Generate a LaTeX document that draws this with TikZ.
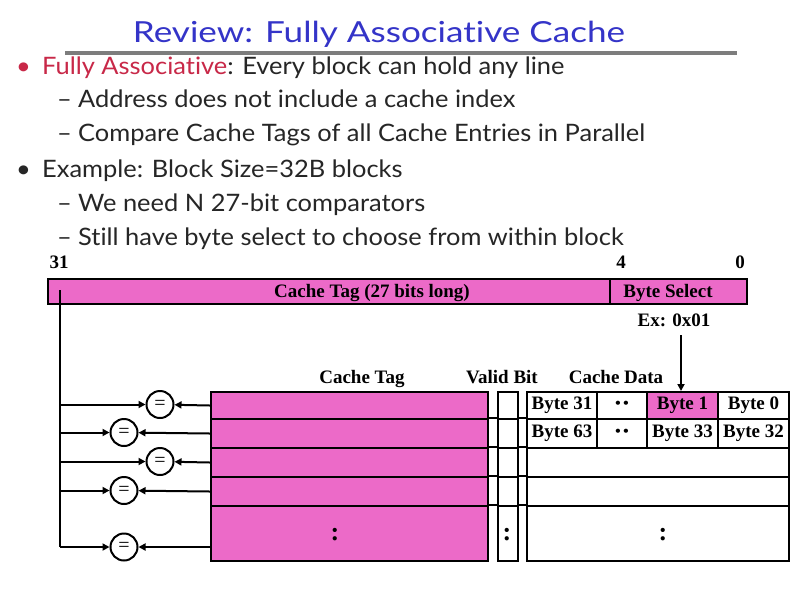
\documentclass[tikz,border=0pt]{standalone}
\usepackage{fontspec}
\setmainfont{Lato}[FakeStretch=1.06, Ligatures=NoCommon]
\newfontfamily\titlefont{Lato}[FakeStretch=1.21, Ligatures=NoCommon]
\newfontfamily\tnr{Liberation Serif}
\usetikzlibrary{arrows.meta}
\definecolor{pinkfill}{RGB}{236,106,200}
\definecolor{titleblue}{RGB}{52,52,200}
\definecolor{crimson}{RGB}{200,40,72}
\definecolor{bodytext}{RGB}{38,38,38}
\definecolor{rulegray}{RGB}{125,125,125}
\begin{document}
\begin{tikzpicture}[x=1pt,y=-1pt,
  title/.style={font=\titlefont\fontsize{29}{32}\selectfont, text=titleblue, inner sep=0pt, anchor=base},
  bodyline/.style={font=\fontsize{24}{28}\selectfont, text=bodytext, inner sep=0pt, anchor=base west},
  lbl/.style={font=\tnr\bfseries\fontsize{19}{20}\selectfont, inner sep=0pt, anchor=base},
  cell/.style={draw, line width=2pt, inner sep=0pt, font=\tnr\bfseries\fontsize{19}{20}\selectfont},
  vdots/.style={font=\tnr\bfseries\fontsize{26}{26}\selectfont, inner sep=0pt},
  bdots/.style={font=\fontsize{11}{11}\selectfont, inner sep=0pt},
  cmp/.style={draw, circle, line width=2pt, minimum size=27pt, inner sep=0pt, font=\tnr\fontsize{20}{20}\selectfont},
  wire/.style={line width=2pt},
  arr/.style={line width=2pt, -{Triangle[length=7pt,width=7pt]}}
]
\useasboundingbox (0,0) rectangle (802,590);
\fill[white] (0,0) rectangle (802,590);

% title and rule
\draw[rulegray, line width=4pt] (65,53) -- (737,53);
\node[title] (ttl) at (379,42) {Review: Fully Associative Cache};

% bullets
\node[bodyline] (b1) at (16,74) {\makebox[26pt][l]{\textcolor{crimson}{•}}\textcolor{crimson}{Fully Associative}: Every block can hold any line};
\node[bodyline] (b2) at (57,107) {\makebox[21pt][l]{–}Address does not include a cache index};
\node[bodyline] (b3) at (57,141) {\makebox[21pt][l]{–}Compare Cache Tags of all Cache Entries in Parallel};
\node[bodyline] (b4) at (16,177) {\makebox[26pt][l]{•}Example: Block Size=32B blocks};
\node[bodyline] (b5) at (57,211) {\makebox[21pt][l]{–}We need N 27-bit comparators};
\node[bodyline] (b6) at (57,245) {\makebox[21pt][l]{–}Still have byte select to choose from within block};

% bit numbers
\node[lbl] (n31) at (59,268) {31};
\node[lbl] (n4) at (621,268) {4};
\node[lbl] (n0) at (740,268) {0};

% address bar
\node[cell, fill=pinkfill, minimum width=562pt, minimum height=25pt, anchor=north west] (tagfield) at (47,277.5) {};
\node[cell, fill=pinkfill, minimum width=137pt, minimum height=25pt, anchor=north west] (bsel) at (609,277.5) {};
\node[lbl] (tagtxt) at (372,297) {Cache Tag (27 bits long)};
\node[lbl] (bseltxt) at (668,297) {Byte Select};

\node[lbl] (ex) at (674,326) {Ex: 0x01};

% column labels
\node[lbl] (lct) at (362,383) {Cache Tag};
\node[lbl] (lvb) at (502,383) {Valid Bit};
\node[lbl] (lcd) at (616,383) {Cache Data};

% tag rows
\node[cell, fill=pinkfill, minimum width=277pt, minimum height=27pt, anchor=north west] (t1) at (210,391) {};
\node[cell, fill=pinkfill, minimum width=277pt, minimum height=29pt, anchor=north west] (t2) at (210,418) {};
\node[cell, fill=pinkfill, minimum width=277pt, minimum height=29pt, anchor=north west] (t3) at (210,447) {};
\node[cell, fill=pinkfill, minimum width=277pt, minimum height=29pt, anchor=north west] (t4) at (210,476) {};
\node[cell, fill=pinkfill, minimum width=277pt, minimum height=55pt, anchor=north west] (t5) at (210,505) {};
\node[vdots] (tdots) at (335,535) {:};

% valid column
\node[cell, minimum width=20pt, minimum height=27pt, anchor=north west] (v1) at (497,391) {};
\node[cell, minimum width=20pt, minimum height=29pt, anchor=north west] (v2) at (497,418) {};
\node[cell, minimum width=20pt, minimum height=29pt, anchor=north west] (v3) at (497,447) {};
\node[cell, minimum width=20pt, minimum height=29pt, anchor=north west] (v4) at (497,476) {};
\node[cell, minimum width=20pt, minimum height=55pt, anchor=north west] (v5) at (497,505) {};
\node[vdots] (vdt) at (507,535) {:};

% data rows
\node[cell, minimum width=70pt, minimum height=27pt, anchor=north west] (d11) at (526,391) {Byte 31};
\node[cell, minimum width=50pt, minimum height=27pt, anchor=north west] (d12) at (596,391) {};
\node[cell, fill=pinkfill, minimum width=71pt, minimum height=27pt, anchor=north west] (d13) at (646,391) {Byte 1};
\node[cell, minimum width=71pt, minimum height=27pt, anchor=north west] (d14) at (717,391) {Byte 0};
\node[cell, minimum width=70pt, minimum height=29pt, anchor=north west] (d21) at (526,418) {Byte 63};
\node[cell, minimum width=50pt, minimum height=29pt, anchor=north west] (d22) at (596,418) {};
\node[cell, minimum width=71pt, minimum height=29pt, anchor=north west] (d23) at (646,418) {Byte 33};
\node[cell, minimum width=71pt, minimum height=29pt, anchor=north west] (d24) at (717,418) {Byte 32};
\node[cell, minimum width=262pt, minimum height=29pt, anchor=north west] (d3) at (526,447) {};
\node[cell, minimum width=262pt, minimum height=29pt, anchor=north west] (d4) at (526,476) {};
\node[cell, minimum width=262pt, minimum height=55pt, anchor=north west] (d5) at (526,505) {};
\node[vdots] (ddots) at (663,535) {:};
\node[bdots] (d12t) at ([yshift=2pt]d12.center) {•\kern1pt•};
\node[bdots] (d22t) at ([yshift=2pt]d22.center) {•\kern1pt•};

% row separators across the gaps
\foreach \yy in {418,447,476,505} {
  \draw[wire] (487,\yy) -- (497,\yy);
  \draw[wire] (517,\yy) -- (526,\yy);
}

% byte select arrow
\coordinate (exb) at (681,335);
\draw[arr] (exb) -- (d13.north -| exb);

% comparators
\node[cmp] (c1) at (160,404.5) {=};
\node[cmp] (c2) at (124,432.5) {=};
\node[cmp] (c3) at (160,461.5) {=};
\node[cmp] (c4) at (124,490.5) {=};
\node[cmp] (c5) at (124,547) {=};

% tag bus
\coordinate (bustop) at (60,290);
\coordinate (busbot) at (60,547);
\draw[wire] (bustop) -- (busbot);
\draw[arr] (busbot) -- (c5);
\foreach \i in {1,2,3,4} {
  \draw[arr] (bustop |- c\i) -- (c\i);
}
\foreach \i in {1,2,3,4} {
  \draw[arr] (t\i.west) -- (c\i);
}
\draw[arr] (t5.west |- c5) -- (c5);
\end{tikzpicture}
\end{document}
